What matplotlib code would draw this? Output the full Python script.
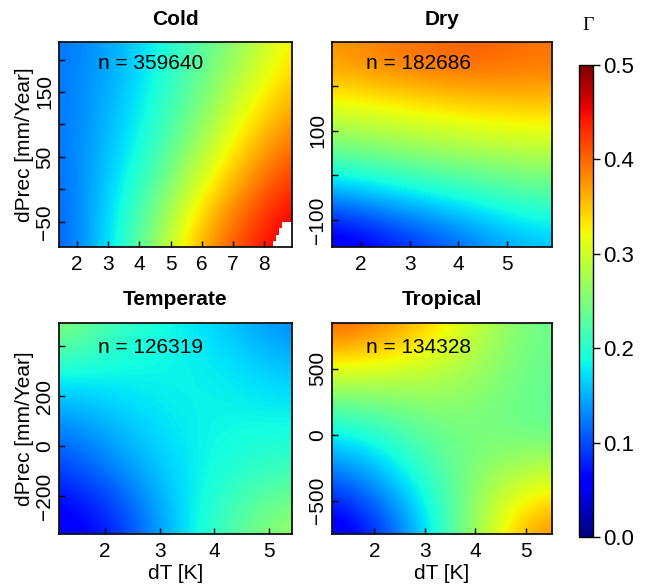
import numpy as np
import matplotlib
matplotlib.use('Agg')
import matplotlib.pyplot as plt

plt.rcParams['font.family'] = ['Liberation Sans', 'DejaVu Sans']

# ---------------- data ----------------
titles = ['Cold', 'Dry', 'Temperate', 'Tropical']
counts = [359640, 182686, 126319, 134328]

# Cold
cold_dT = [1.5, 3.0, 4.5, 6.0, 7.5, 9.0]
cold_dPrec = [-75, 25, 125, 225]
cold_gamma = [
    [0.105, 0.170, 0.265, 0.370, 0.430, 0.480],
    [0.115, 0.160, 0.215, 0.300, 0.370, 0.425],
    [0.120, 0.150, 0.190, 0.250, 0.320, 0.370],
    [0.120, 0.140, 0.180, 0.225, 0.270, 0.330],
]
cold_xlim = (1.42, 8.9)
cold_ylim = (-89, 227)
cold_xticks = [2, 3, 4, 5, 6, 7, 8]
cold_xticklabels = ['2', '3', '4', '5', '6', '7', '8']
cold_yticks = [-50, 0, 50, 100, 150, 200]
cold_yticklabels = ['\u221250', '', '50', '', '150', '']
# region without data (white corner)
cold_missing_dT = [8.28, 8.38, 8.48, 8.58, 8.95]
cold_missing_top = [-80, -70, -60, -50, -50]

# Dry
dry_dT = [1.5, 2.5, 3.5, 4.5, 5.5]
dry_dPrec = [-150, -50, 50, 150, 250]
dry_gamma = [
    [0.035, 0.065, 0.095, 0.125, 0.155],
    [0.130, 0.155, 0.175, 0.195, 0.215],
    [0.235, 0.250, 0.265, 0.275, 0.285],
    [0.310, 0.320, 0.330, 0.340, 0.345],
    [0.375, 0.390, 0.400, 0.405, 0.395],
]
dry_xlim = (1.4, 5.93)
dry_ylim = (-160, 298)
dry_xticks = [2, 3, 4, 5]
dry_xticklabels = ['2', '3', '4', '5']
dry_yticks = [-100, 0, 100, 200]
dry_yticklabels = ['\u2212100', '', '100', '']

# Temperate
temp_dT = [1.25, 2.25, 3.25, 4.25, 5.25]
temp_dPrec = [-300, -100, 100, 300, 500]
temp_gamma = [
    [0.045, 0.080, 0.160, 0.220, 0.270],
    [0.090, 0.130, 0.170, 0.195, 0.210],
    [0.130, 0.160, 0.180, 0.185, 0.185],
    [0.190, 0.185, 0.185, 0.180, 0.160],
    [0.270, 0.210, 0.185, 0.160, 0.125],
]
temp_xlim = (1.16, 5.42)
temp_ylim = (-350, 491)
temp_xticks = [2, 3, 4, 5]
temp_xticklabels = ['2', '3', '4', '5']
temp_yticks = [-200, 0, 200, 400]
temp_yticklabels = ['\u2212200', '0', '200', '']

# Tropical
trop_dT = [1.25, 2.25, 3.25, 4.25, 5.25]
trop_dPrec = [-700, -325, 50, 425, 800]
trop_gamma = [
    [0.035, 0.095, 0.190, 0.300, 0.385],
    [0.110, 0.155, 0.215, 0.270, 0.300],
    [0.185, 0.210, 0.245, 0.245, 0.230],
    [0.290, 0.285, 0.280, 0.260, 0.235],
    [0.410, 0.385, 0.340, 0.280, 0.240],
]
trop_xlim = (1.16, 5.52)
trop_ylim = (-752, 846)
trop_xticks = [2, 3, 4, 5]
trop_xticklabels = ['2', '3', '4', '5']
trop_yticks = [-500, 0, 500]
trop_yticklabels = ['\u2212500', '0', '500']

cbar_ticks = [0.0, 0.1, 0.2, 0.3, 0.4, 0.5]
cbar_ticklabels = ['0.0', '0.1', '0.2', '0.3', '0.4', '0.5']
gamma_range = (0.0, 0.5)

# ---------------- figure ----------------
W, H = 649, 588
fig = plt.figure(figsize=(W / 100, H / 100), dpi=100)
fig.patch.set_facecolor('white')


def px_axes(l, t, r, b):
    return fig.add_axes([l / W, 1 - b / H, (r - l) / W, (b - t) / H])


panels = [
    dict(box=(59, 42, 292, 247), x=cold_dT, y=cold_dPrec, z=cold_gamma,
         xlim=cold_xlim, ylim=cold_ylim, xt=cold_xticks, xtl=cold_xticklabels,
         yt=cold_yticks, ytl=cold_yticklabels),
    dict(box=(332, 42, 552, 247), x=dry_dT, y=dry_dPrec, z=dry_gamma,
         xlim=dry_xlim, ylim=dry_ylim, xt=dry_xticks, xtl=dry_xticklabels,
         yt=dry_yticks, ytl=dry_yticklabels),
    dict(box=(59, 323, 292, 534), x=temp_dT, y=temp_dPrec, z=temp_gamma,
         xlim=temp_xlim, ylim=temp_ylim, xt=temp_xticks, xtl=temp_xticklabels,
         yt=temp_yticks, ytl=temp_yticklabels),
    dict(box=(332, 323, 552, 534), x=trop_dT, y=trop_dPrec, z=trop_gamma,
         xlim=trop_xlim, ylim=trop_ylim, xt=trop_xticks, xtl=trop_xticklabels,
         yt=trop_yticks, ytl=trop_yticklabels),
]

FS = 15
im = None
axes = []
for i, p in enumerate(panels):
    l, t, r, b = p['box']
    ax = px_axes(l, t, r, b)
    axes.append(ax)
    x = np.asarray(p['x'], float)
    y = np.asarray(p['y'], float)
    z = np.asarray(p['z'], float)
    dx = x[1] - x[0]
    dy = y[1] - y[0]
    im = ax.imshow(z, origin='lower', aspect='auto', cmap='jet',
                   vmin=gamma_range[0], vmax=gamma_range[1],
                   extent=[x[0] - dx / 2, x[-1] + dx / 2, y[0] - dy / 2, y[-1] + dy / 2],
                   interpolation='bicubic', interpolation_stage='data')
    ax.set_xlim(*p['xlim'])
    ax.set_ylim(*p['ylim'])
    ax.set_xticks(p['xt'])
    ax.set_xticklabels(p['xtl'])
    ax.set_yticks(p['yt'])
    ax.set_yticklabels(p['ytl'], rotation=90, va='center')
    ax.tick_params(axis='both', direction='in', length=4.5, width=1.0,
                   labelsize=FS, colors='black')
    ax.tick_params(axis='x', pad=6)
    ax.tick_params(axis='y', pad=3.5)
    for s in ax.spines.values():
        s.set_linewidth(1.3)
        s.set_color('#111111')
    # title
    fig.text((l + r) / 2 / W, 1 - (25 if i < 2 else 305) / H, titles[i],
             ha='center', va='baseline', fontsize=FS, fontweight='bold')
    # n label
    nx = 98 if i % 2 == 0 else 366
    ny = 69 if i < 2 else 353
    fig.text(nx / W, 1 - ny / H, 'n = %d' % counts[i], ha='left',
             va='baseline', fontsize=FS)

# white region without data in Cold panel
axes[0].fill_between(cold_missing_dT, cold_ylim[0] - 10, cold_missing_top,
                     step='post', color='white', linewidth=0, zorder=2)

# axis labels
for (l, t, r, b) in [(59, 42, 292, 247), (59, 323, 292, 534)]:
    fig.text(24 / W, 1 - (t + b) / 2 / H, 'dPrec [mm/Year]', rotation=90,
             ha='center', va='center', fontsize=FS)
for (l, r) in [(59, 292), (332, 552)]:
    fig.text((l + r) / 2 / W, 1 - 579 / H, 'dT [K]', ha='center',
             va='baseline', fontsize=FS)

# colorbar
cax = px_axes(579, 65, 593, 537)
cb = fig.colorbar(im, cax=cax, ticks=cbar_ticks)
cb.ax.set_yticklabels(cbar_ticklabels)
cb.ax.tick_params(direction='out', length=5, width=1.0, labelsize=16, pad=2)
cb.outline.set_linewidth(1.0)
fig.text(588 / W, 1 - 26 / H, '\u0393', ha='center', va='center',
         fontsize=14, family=['Liberation Serif', 'DejaVu Serif'])

fig.savefig('out.png', dpi=100)
